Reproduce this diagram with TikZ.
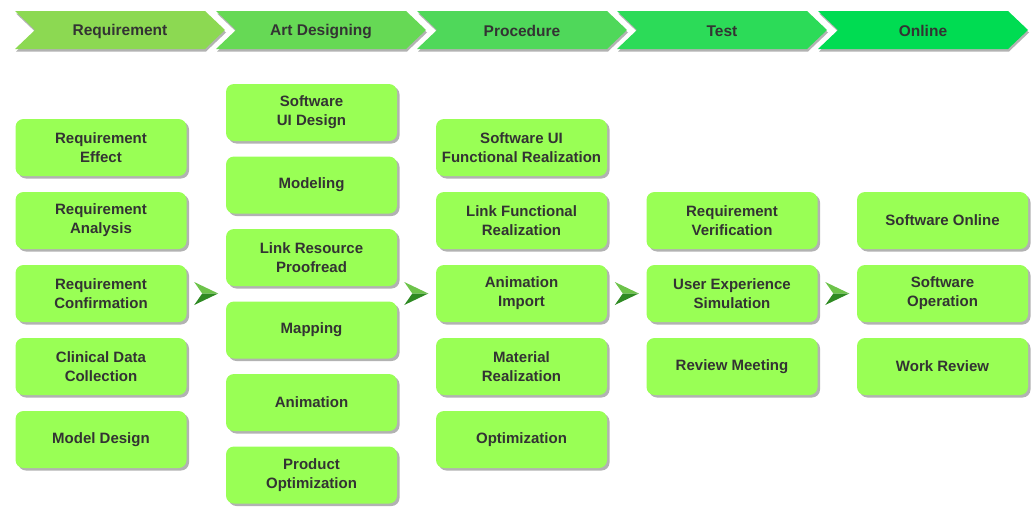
\documentclass[tikz,border=0pt]{standalone}
\usepackage{fontspec}
\setmainfont{Liberation Sans}
\usetikzlibrary{shadows,calc}
\definecolor{boxg}{HTML}{99FF55}
\definecolor{txt}{HTML}{333333}
\definecolor{hA}{HTML}{8CD952}
\definecolor{hB}{HTML}{66D955}
\definecolor{hC}{HTML}{4FD85A}
\definecolor{hD}{HTML}{2CDB58}
\definecolor{hE}{HTML}{00DC52}
\definecolor{arrlight}{HTML}{6DC34A}
\definecolor{arrdark}{HTML}{2F8A23}
\tikzset{
  stepbox/.style={fill=boxg, rounded corners=8pt, minimum width=171pt, minimum height=57pt,
    align=center, font=\bfseries\fontsize{15}{19}\selectfont, text=txt, inner sep=0pt,
    drop shadow={shadow xshift=2.5pt, shadow yshift=-2.5pt, fill=black, opacity=0.3}},
  headtext/.style={font=\bfseries\fontsize{15.5}{18}\selectfont, text=txt, inner sep=0pt, anchor=base},
  chevshadow/.style={drop shadow={shadow xshift=1pt, shadow yshift=-2.5pt, fill=black, opacity=0.3}},
  flowarrow/.pic={
    \fill[arrlight] (12,0) -- (-12,-11.5) -- (-4,0) -- cycle;
    \fill[arrdark] (12,0) -- (-4,0) -- (-12,11.5) -- cycle;
  }
}
\begin{document}
\begin{tikzpicture}[x=1pt,y=-1pt]
\useasboundingbox (0,0) rectangle (1035,506);
% header chevrons
\foreach \s/\c in {15/hA,216/hB,417/hC,617/hD,818/hE}{
  \path[fill=\c, chevshadow] (\s,11) -- ++(190,0) -- ++(20,19) -- ++(-20,19) -- ++(-190,0) -- ++(20,-19) -- cycle;
}
\node[headtext] (hreq) at (120,35) {Requirement};
\node[headtext] (hart) at (321,35) {Art Designing};
\node[headtext] (hpro) at (522,36) {Procedure};
\node[headtext] (htes) at (722,36) {Test};
\node[headtext] (honl) at (923,36) {Online};
% column 1
\node[stepbox] (r1) at (101,147.5) {Requirement\\Effect};
\node[stepbox] (r2) at (101,220.5) {Requirement\\Analysis};
\node[stepbox] (r3) at (101,293.5) {Requirement\\Confirmation};
\node[stepbox] (r4) at (101,366.5) {Clinical Data\\Collection};
\node[stepbox] (r5) at (101,439.5) {Model Design};
% column 2
\node[stepbox] (a1) at (311.5,112.5) {Software\\UI Design};
\node[stepbox] (a2) at (311.5,185) {Modeling};
\node[stepbox] (a3) at (311.5,257.5) {Link Resource\\Proofread};
\node[stepbox] (a4) at (311.5,330) {Mapping};
\node[stepbox] (a5) at (311.5,402.5) {Animation};
\node[stepbox] (a6) at (311.5,475) {Product\\Optimization};
% column 3
\node[stepbox] (p1) at (521.5,147.5) {Software UI\\Functional Realization};
\node[stepbox] (p2) at (521.5,220.5) {Link Functional\\Realization};
\node[stepbox] (p3) at (521.5,293.5) {Animation\\Import};
\node[stepbox] (p4) at (521.5,366.5) {Material\\Realization};
\node[stepbox] (p5) at (521.5,439.5) {Optimization};
% column 4
\node[stepbox] (t1) at (732,220.5) {Requirement\\Verification};
\node[stepbox] (t2) at (732,293.5) {User Experience\\Simulation};
\node[stepbox] (t3) at (732,366.5) {Review Meeting};
% column 5
\node[stepbox] (o1) at (942.5,220.5) {Software Online};
\node[stepbox] (o2) at (942.5,293.5) {Software\\Operation};
\node[stepbox] (o3) at (942.5,366.5) {Work Review};
% arrows between columns
\pic at ($(r3.east)+(19.5,0)$) {flowarrow};
\pic at ($(p3.west)+(-19.5,0)$) {flowarrow};
\pic at ($(t2.west)+(-19.5,0)$) {flowarrow};
\pic at ($(o2.west)+(-19.5,0)$) {flowarrow};
\end{tikzpicture}
\end{document}
